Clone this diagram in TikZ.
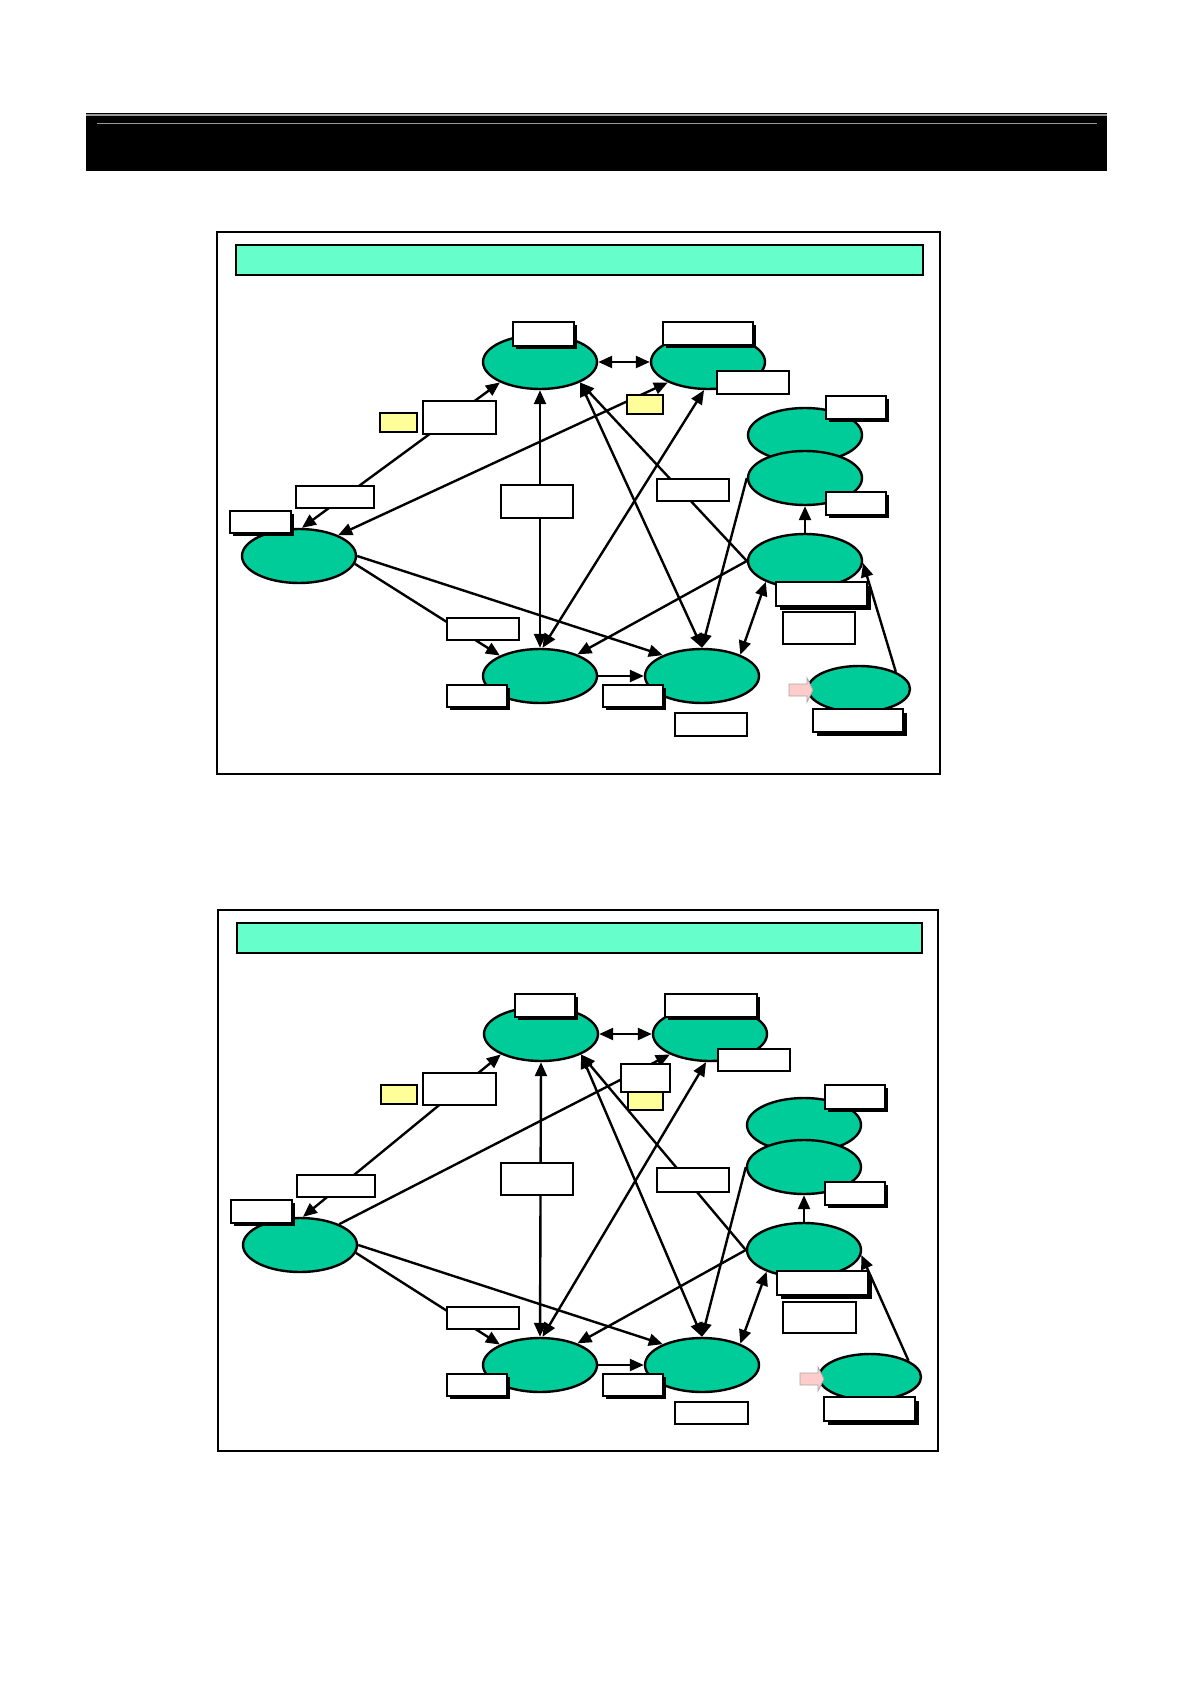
\documentclass[tikz,border=0pt]{standalone}
\usetikzlibrary{shapes.geometric,arrows.meta,shadows}

\definecolor{blobgreen}{RGB}{0,204,153}
\definecolor{titlecyan}{RGB}{102,255,204}
\definecolor{noteyellow}{RGB}{255,255,153}
\definecolor{arrowpink}{RGB}{255,204,204}

\tikzset{
  blob/.style={ellipse, draw, line width=1.2pt, fill=blobgreen, inner sep=0pt,
    minimum width=57pt, minimum height=27pt},
  smallblob/.style={blob, minimum width=51pt, minimum height=23pt},
  tag/.style 2 args={rectangle, draw, fill=white, line width=0.6pt, inner sep=0pt,
    minimum width=#1, minimum height=#2},
  note/.style 2 args={rectangle, draw, fill=noteyellow, line width=0.6pt, inner sep=0pt,
    minimum width=#1, minimum height=#2},
  boxshadow/.style={drop shadow={shadow xshift=1.5pt, shadow yshift=-1.5pt, opacity=1, fill=black}},
  heavy/.style={line width=1.3pt, drop shadow={shadow xshift=1.8pt, shadow yshift=-1.8pt, opacity=1, fill=black}},
  link/.style={line width=1.2pt},
  frame/.style={line width=0.9pt},
  titlebar/.style={draw, fill=titlecyan, line width=0.6pt}
}

\begin{document}
\begin{tikzpicture}[x=0.5pt, y=-0.5pt, >={Triangle[length=7pt,width=6pt]}]
    \useasboundingbox (0,0) rectangle (1190,1684);

    \fill[black] (86,113) rectangle (1107,171);
    \draw[gray!80, line width=0.6pt] (86,115) -- (1107,115);
    \draw[gray!80, line width=0.6pt] (97,123.5) -- (1097,123.5);

    % first panel
    \draw[frame] (217,232) rectangle (940,774);
    \draw[titlebar] (236,245) rectangle (923,275);

    \node[blob] (Aone) at (540,362) {};
    \node[blob] (Bone) at (708,362) {};
    \node[blob] (Lone) at (299,556) {};
    \node[blob] (Cone) at (540,676) {};
    \node[blob] (Done) at (702,676) {};
    \node[blob] (Eone) at (805,435) {};
    \node[blob] (Fone) at (805,478) {};
    \node[blob] (Gone) at (805,561) {};
    \node[smallblob] (Hone) at (859,689) {};

    \draw[link, <->] (Aone.east) -- (Bone.west);
    \draw[link, <->] (Lone.84) -- (Aone.207);
    \draw[link, <->] (Lone.28) -- (Bone.207);
    \draw[link, <->] (Aone.south) -- (Cone.north);
    \draw[link, <->] (Cone.85) -- (Bone.262);
    \draw[link, <->] (Aone.333) -- (Done.north);
    \draw[link, ->] (Gone.west) -- (Aone.333);
    \draw[link, ->] (Fone.west) -- (Done.north);
    \draw[link, ->] (Gone.west) -- (Cone.30);
    \draw[link, ->] (Lone.-8) -- (Cone.153);
    \draw[link, ->] (Lone.east) -- (Done.152);
    \draw[link, ->] (Cone.east) -- (Done.west);
    \draw[link, ->] (Gone.north) -- (Fone.south);
    \draw[link, <->] (Done.29) -- (Gone.208);
    \draw[link, ->] (Hone.25) -- (Gone.358);

    \node[tag={30.5pt}{12pt}, boxshadow] (tagAone) at (543.5,334) {};
    \node[tag={45pt}{11.5pt}, boxshadow] (tagBone) at (708,333.5) {};
    \node[tag={36pt}{11.5pt}] (sideBone) at (753,382.5) {};
    \node[note={18.5pt}{9.5pt}] (noteLone) at (398.5,422.5) {};
    \node[tag={36.5pt}{16.5pt}] (midLAone) at (459.5,417.5) {};
    \node[note={18pt}{9.5pt}] (noteBone) at (645,404.5) {};
    \node[tag={39pt}{11pt}] (midLone) at (335,497) {};
    \node[tag={30.5pt}{11pt}, boxshadow] (tagLone) at (260.5,522) {};
    \node[tag={36pt}{16.5pt}] (midACone) at (537,501.5) {};
    \node[tag={36pt}{11pt}] (midAGone) at (693,490) {};
    \node[tag={30pt}{11.5pt}, boxshadow] (tagEone) at (856,407.5) {};
    \node[tag={30pt}{11.5pt}, boxshadow] (tagFone) at (856,503.5) {};
    \node[tag={45.5pt}{12pt}, heavy] (tagGone) at (821.5,594) {};
    \node[tag={36pt}{16pt}] (subGone) at (819,628) {};
    \node[tag={36pt}{11pt}] (midLCone) at (483,629) {};
    \node[tag={30pt}{11pt}, boxshadow] (tagCone) at (477,696) {};
    \node[tag={30pt}{11pt}, boxshadow] (tagDone) at (633,696) {};
    \node[tag={36pt}{11.5pt}] (subDone) at (711,724.5) {};
    \node[tag={45pt}{11.5pt}, heavy] (tagHone) at (858,720.5) {};
    \filldraw[fill=arrowpink, draw=gray!70, line width=0.4pt]
      (789,684) -- (807,684) -- (807,678) -- (813,690) -- (807,702) -- (807,696) -- (789,696) -- cycle;

    % second panel
    \draw[frame] (218,910) rectangle (938,1451);
    \draw[titlebar] (237,923) rectangle (922,953);

    \node[blob] (Atwo) at (541,1034) {};
    \node[blob] (Btwo) at (710,1034) {};
    \node[blob] (Ltwo) at (300,1245) {};
    \node[blob] (Ctwo) at (540,1365) {};
    \node[blob] (Dtwo) at (702,1365) {};
    \node[blob] (Etwo) at (804,1125) {};
    \node[blob] (Ftwo) at (804,1167) {};
    \node[blob] (Gtwo) at (804,1250) {};
    \node[smallblob] (Htwo) at (870,1377) {};

    \draw[link, <->] (Atwo.east) -- (Btwo.west);
    \draw[link, <->] (Ltwo.84) -- (Atwo.207);
    \draw[link, ->] (Ltwo.28) -- (Btwo.207);
    \draw[link, <->] (Atwo.south) -- (Ctwo.north);
    \draw[link, <->] (Ctwo.85) -- (Btwo.262);
    \draw[link, <->] (Atwo.333) -- (Dtwo.north);
    \draw[link, ->] (Gtwo.west) -- (Atwo.333);
    \draw[link, ->] (Ftwo.west) -- (Dtwo.north);
    \draw[link, ->] (Gtwo.west) -- (Ctwo.30);
    \draw[link, ->] (Ltwo.-8) -- (Ctwo.153);
    \draw[link, ->] (Ltwo.east) -- (Dtwo.152);
    \draw[link, ->] (Ctwo.east) -- (Dtwo.west);
    \draw[link, ->] (Gtwo.north) -- (Ftwo.south);
    \draw[link, <->] (Dtwo.29) -- (Gtwo.210);
    \draw[link, ->] (Htwo.23) -- (Gtwo.355);

    \node[tag={30pt}{11.5pt}, boxshadow] (tagAtwo) at (545,1005.5) {};
    \node[tag={46pt}{11.5pt}, boxshadow] (tagBtwo) at (711,1005.5) {};
    \node[tag={36pt}{11pt}] (sideBtwo) at (754,1060) {};
    \node[note={17.5pt}{9pt}] (noteBtwo) at (645.5,1101) {};
    \node[tag={24.5pt}{14pt}] (midLBtwo) at (645.5,1078) {};
    \node[note={18pt}{9.5pt}] (noteLtwo) at (399,1094.5) {};
    \node[tag={36.5pt}{16pt}] (midLAtwo) at (459.5,1089) {};
    \node[tag={39pt}{11pt}] (midLtwo) at (336,1186) {};
    \node[tag={30.5pt}{11.5pt}, boxshadow] (tagLtwo) at (261.5,1211.5) {};
    \node[tag={36pt}{16pt}] (midACtwo) at (537,1179) {};
    \node[tag={36pt}{12pt}] (midAGtwo) at (693,1180) {};
    \node[tag={30pt}{12pt}, boxshadow] (tagEtwo) at (855,1097) {};
    \node[tag={30pt}{11.5pt}, boxshadow] (tagFtwo) at (855,1193.5) {};
    \node[tag={45.5pt}{12pt}, heavy] (tagGtwo) at (822.5,1283) {};
    \node[tag={36.5pt}{15.5pt}] (subGtwo) at (819.5,1317.5) {};
    \node[tag={36pt}{11pt}] (midLCtwo) at (483,1318) {};
    \node[tag={30pt}{11pt}, boxshadow] (tagCtwo) at (477,1385) {};
    \node[tag={30pt}{11pt}, boxshadow] (tagDtwo) at (633,1385) {};
    \node[tag={36.5pt}{11pt}] (subDtwo) at (711.5,1413) {};
    \node[tag={45.5pt}{12pt}, heavy] (tagHtwo) at (869.5,1409) {};
    \filldraw[fill=arrowpink, draw=gray!70, line width=0.4pt]
      (800,1373) -- (818,1373) -- (818,1367) -- (824,1379) -- (818,1391) -- (818,1385) -- (800,1385) -- cycle;
\end{tikzpicture}
\end{document}
